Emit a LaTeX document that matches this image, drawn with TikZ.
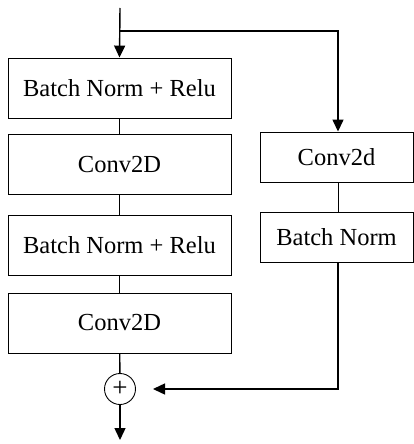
\documentclass[tikz,border=0pt]{standalone}
\usepackage{fontspec}
\setmainfont{Liberation Serif}
\usetikzlibrary{arrows.meta}
\begin{document}
\begin{tikzpicture}[x=1pt,y=-1pt,
  box/.style={draw,line width=0.9pt,inner sep=0pt,minimum width=223pt,minimum height=60pt,font=\fontsize{24.5}{28}\selectfont},
  rbox/.style={draw,line width=0.9pt,inner sep=0pt,minimum width=153pt,minimum height=50pt,font=\fontsize{24.5}{28}\selectfont},
  thin/.style={line width=0.6pt},
  thick/.style={line width=1.4pt},
  arr/.style={thick,-{Triangle[length=12pt,width=11pt]}}]
\useasboundingbox (0,0) rectangle (414,444);
\node[box] (b1) at (119.5,88) {Batch Norm + Relu};
\node[box] (b2) at (119.5,164.5) {Conv2D};
\node[box] (b3) at (119.5,245) {Batch Norm + Relu};
\node[box] (b4) at (119.5,323) {Conv2D};
\node[rbox] (r1) at (336.5,157) {Conv2d};
\node[rbox] (r2) at (336.5,237) {Batch Norm};
\node[draw,circle,line width=0.9pt,minimum size=31pt,inner sep=0pt,font=\fontsize{27}{30}\selectfont] (sum) at (120,389) {\raisebox{1pt}{+}};
\coordinate (in) at (120,8);
\coordinate (split) at (120,31);
\coordinate (out) at (120,440);
\coordinate (ret) at (153,389);
\draw[arr] (in) -- (b1.north);
\draw[arr] (split) -| (r1.north -| 338,0);
\draw[thin] (b1) -- (b2);
\draw[thin] (b2) -- (b3);
\draw[thin] (b3) -- (b4);
\draw[thick] (b4) -- (sum);
\draw[arr] (sum) -- (out);
\draw[thin] (r1.south -| 338,0) -- (r2.north -| 338,0);
\draw[arr] (r2.south -| 338,0) |- (ret);
\end{tikzpicture}
\end{document}
